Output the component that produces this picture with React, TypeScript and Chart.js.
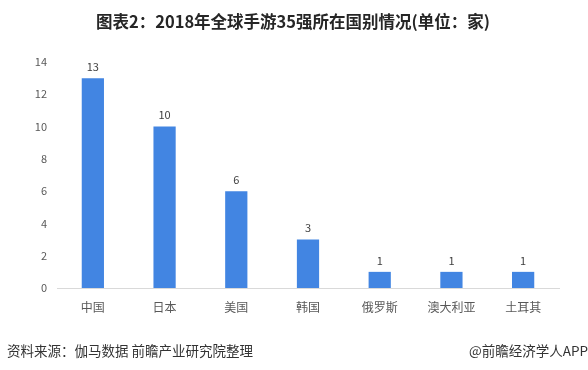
import React, { useEffect, useRef } from "react";
import { Chart, registerables } from "chart.js";

Chart.register(...registerables);

const TITLE = "图表2：2018年全球手游35强所在国别情况(单位：家)";
const SOURCE = "资料来源：伽马数据 前瞻产业研究院整理";
const CREDIT = "@前瞻经济学人APP";
const categories = ["中国", "日本", "美国", "韩国", "俄罗斯", "澳大利亚", "土耳其"];
const counts = [13, 10, 6, 3, 1, 1, 1];
const yTicks = [0, 2, 4, 6, 8, 10, 12, 14];

const FONT = "'Noto Sans CJK SC', 'Microsoft YaHei', sans-serif";

export default function App() {
  const ref = useRef<HTMLCanvasElement | null>(null);
  useEffect(() => {
    const canvas = ref.current;
    if (!canvas) return;
    const decor = {
      id: "decor",
      afterDraw(chart: any) {
        const ctx = chart.ctx;
        ctx.save();
        ctx.fillStyle = "#262626";
        ctx.font = `bold 16.5px ${FONT}`;
        ctx.textAlign = "center";
        ctx.textBaseline = "middle";
        ctx.fillText(TITLE, 293, 22);
        ctx.font = `13.5px ${FONT}`;
        ctx.fillStyle = "#333333";
        ctx.textAlign = "left";
        ctx.fillText(SOURCE, 7, 351);
        ctx.textAlign = "right";
        ctx.fillText(CREDIT, 588, 351);
        // data labels
        const meta = chart.getDatasetMeta(0);
        ctx.font = `11px ${FONT}`;
        ctx.fillStyle = "#404040";
        ctx.textAlign = "center";
        ctx.textBaseline = "bottom";
        meta.data.forEach((el: any, i: number) => {
          ctx.fillText(String(counts[i]), el.x, el.y - 6);
        });
        ctx.restore();
      },
    };
    const chart = new Chart(canvas, {
      type: "bar",
      data: {
        labels: categories,
        datasets: [
          {
            data: counts,
            backgroundColor: "#4285E2",
            categoryPercentage: 1,
            barPercentage: 0.31,
          },
        ],
      },
      options: {
        responsive: false,
        animation: false,
        layout: { padding: { top: 62, right: 29, left: 0, bottom: 0 } },
        plugins: { legend: { display: false }, tooltip: { enabled: false }, title: { display: false } },
        scales: {
          x: {
            grid: { display: false, drawTicks: false },
            border: { display: true, color: "#d9d9d9" },
            ticks: { color: "#595959", font: { family: FONT, size: 12 }, padding: 12 },
            afterFit(scale: any) {
              scale.height = 82;
            },
          },
          y: {
            min: 0,
            max: 14,
            grid: { display: false, drawTicks: false },
            border: { display: false },
            ticks: {
              stepSize: 2,
              color: "#595959",
              font: { family: FONT, size: 11 },
              padding: 10,
              callback: (v: any) => (yTicks.includes(Number(v)) ? String(v) : ""),
            },
            afterFit(scale: any) {
              scale.width = 57;
            },
          },
        },
      },
      plugins: [decor],
    });
    return () => chart.destroy();
  }, []);
  return (
    <div style={{ position: "fixed", left: 0, top: 0, width: 588, height: 370, background: "#fff" }}>
      <canvas ref={ref} width={588} height={370} style={{ width: 588, height: 370 }} />
    </div>
  );
}
